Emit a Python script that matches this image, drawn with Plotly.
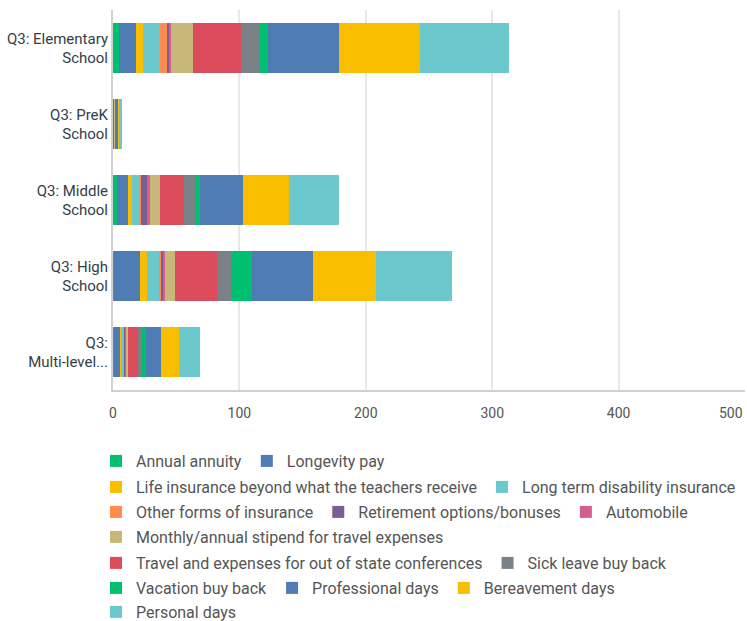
import plotly.graph_objects as go

categories = ["Q3: Elementary<br>School", "Q3: PreK<br>School", "Q3: Middle<br>School",
              "Q3: High<br>School", "Q3:<br>Multi-level..."]

series_names = [
    "Annual annuity", "Longevity pay", "Life insurance beyond what the teachers receive",
    "Long term disability insurance", "Other forms of insurance", "Retirement options/bonuses",
    "Automobile", "Monthly/annual stipend for travel expenses",
    "Travel and expenses for out of state conferences", "Sick leave buy back",
    "Vacation buy back", "Professional days", "Bereavement days", "Personal days",
]

# values per category: Elementary, PreK, Middle, High, Multi-level
annual_annuity = [5, 0, 3, 1, 1]
longevity_pay = [13, 1, 9, 20, 5]
life_insurance = [6, 0, 3, 6, 1]
long_term_disability = [13, 0, 6, 9, 1]
other_insurance = [6, 0, 1, 2, 1]
retirement = [1, 0, 5, 2, 1]
automobile = [2, 0, 2, 1, 1]
stipend_travel = [17, 1, 8, 8, 1]
travel_conferences = [38, 1, 19, 33, 8]
sick_leave = [15, 0, 9, 11, 3]
vacation = [7, 0, 4, 17, 3]
professional_days = [56, 1, 34, 48, 12]
bereavement_days = [64, 1, 36, 50, 14]
personal_days = [70, 2, 40, 60, 17]

x_tick_values = [0, 100, 200, 300, 400, 500]
x_tick_labels = ["0", "100", "200", "300", "400", "500"]

series_values = [annual_annuity, longevity_pay, life_insurance, long_term_disability,
                 other_insurance, retirement, automobile, stipend_travel,
                 travel_conferences, sick_leave, vacation, professional_days,
                 bereavement_days, personal_days]

colors = ["#00BF6F", "#507CB6", "#F9BE00", "#6BC8CD", "#FF8B4F", "#7D5E90", "#D25F90",
          "#C7B879", "#DB4D5C", "#7A8187", "#00BF6F", "#507CB6", "#F9BE00", "#6BC8CD"]

# which legend row each series sits in (wrapping as in the reference)
legend_rows = [1, 1, 2, 2, 3, 3, 3, 4, 5, 5, 6, 6, 6, 7]
row_centers_px = [461, 487, 512, 537, 563, 588, 612]

W, H = 747, 621
ML, MR, MT, MB = 113, 2, 10, 231
plot_w = W - ML - MR
plot_h = H - MT - MB
plot_bottom = H - MB

fig = go.Figure()
for name, vals, col, row in zip(series_names, series_values, colors, legend_rows):
    fig.add_trace(go.Bar(
        y=categories, x=vals, name=name, orientation="h",
        marker=dict(color=col, line=dict(width=0)),
        legend="legend" if row == 1 else f"legend{row}",
    ))

legend_font = dict(family="Roboto", size=16, color="#555555")
legends = {}
for i, c in enumerate(row_centers_px, start=1):
    key = "legend" if i == 1 else f"legend{i}"
    legends[key] = dict(
        orientation="h", xref="paper", yref="paper", traceorder="normal",
        x=(96 - ML) / plot_w, xanchor="left",
        y=(plot_bottom - c) / plot_h, yanchor="middle",
        font=legend_font, bgcolor="rgba(0,0,0,0)", borderwidth=0,
    )

fig.update_layout(
    barmode="stack",
    bargap=0.33,
    width=W, height=H,
    margin=dict(l=ML, r=MR, t=MT, b=MB, autoexpand=False),
    paper_bgcolor="white", plot_bgcolor="white",
    font=dict(family="Roboto", size=15, color="#333e48"),
    showlegend=True,
    xaxis=dict(
        range=[0, 500], tickvals=x_tick_values, ticktext=x_tick_labels[:-1] + [""],
        showgrid=True, gridcolor="#e8e8e8", gridwidth=2,
        zeroline=False, showline=True, linecolor="#d0d0d0", linewidth=2,
        ticks="outside", ticklen=9, tickcolor="white", automargin=False,
        tickfont=dict(family="Roboto", size=14, color="#555555"),
    ),
    yaxis=dict(
        autorange="reversed", showline=True, linecolor="#d0d0d0", linewidth=2,
        showgrid=False, ticks="", automargin=False,
        tickfont=dict(family="Roboto", size=15, color="#333e48"),
    ),
    annotations=[dict(
        x=x_tick_values[-1], xref="x", y=0, yref="paper", yshift=-23,
        text=x_tick_labels[-1], showarrow=False, xanchor="right", yanchor="middle",
        font=dict(family="Roboto", size=14, color="#555555"),
    )],
    **legends,
)

fig.write_html(
    "out.html",
    config={"displayModeBar": False},
    post_script="document.body.style.margin='0';document.body.style.overflow='hidden';",
)
